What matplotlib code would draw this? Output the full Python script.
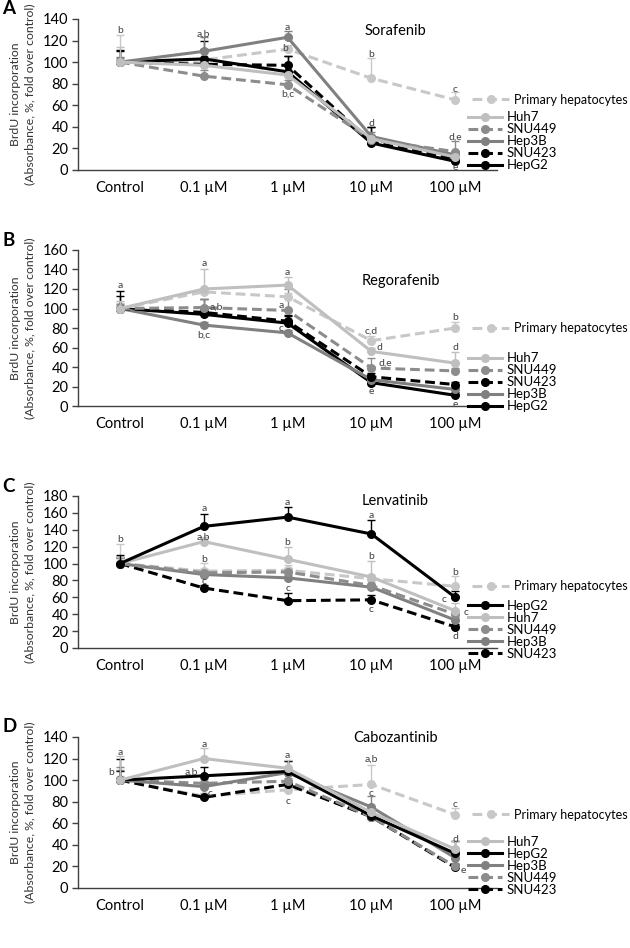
import matplotlib
matplotlib.use('Agg')
import matplotlib.pyplot as plt

plt.rcParams['font.family'] = ['Lato', 'DejaVu Sans']

doses = ['Control', '0.1 µM', '1 µM', '10 µM', '100 µM']
ylabel = 'BrdU incorporation\n(Absorbance, %, fold over control)'

# style per cell line: colour, dashed?
styles = {
    'Huh7': ('#BFBFBF', False),
    'SNU449': ('#8C8C8C', True),
    'Hep3B': ('#808080', False),
    'SNU423': ('#000000', True),
    'HepG2': ('#000000', False),
    'Primary hepatocytes': ('#C8C8C8', True),
}

# ---- A: Sorafenib ----
sora = {
    'Huh7': [100, 97, 88, 29, 12],
    'SNU449': [100, 87, 79, 28, 17],
    'Hep3B': [100, 110, 123, 31, 14],
    'SNU423': [100, 98, 97, 26, 10],
    'HepG2': [100, 103, 91, 25, 8],
    'Primary hepatocytes': [100, 102, 112, 85, 65],
}
sora_err = {
    'Huh7': [14, 5, 4, 3, 3],
    'SNU449': [4, 6, 4, 4, 10],
    'Hep3B': [5, 13, 6, 4, 4],
    'SNU423': [10, 14, 9, 14, 3],
    'HepG2': [11, 17, 15, 15, 3],
    'Primary hepatocytes': [25, 4, 4, 19, 7],
}
sora_letters = [(0, 129, 'b'), (1, 126, 'a,b'), (2, 132, 'a'), (1.97, 113, 'b'),
                (2, 70, 'b,c'), (3, 107, 'b'), (3, 43, 'd'), (4, 75, 'c'),
                (4, 30, 'd,e'), (4, 2, 'e')]
sora_order = ['Huh7', 'SNU449', 'Hep3B', 'SNU423', 'HepG2']

# ---- B: Regorafenib ----
rego = {
    'Huh7': [100, 120, 124, 56, 44],
    'SNU449': [100, 101, 98, 39, 36],
    'SNU423': [100, 96, 87, 30, 22],
    'Hep3B': [100, 83, 75, 27, 17],
    'HepG2': [100, 94, 85, 24, 11],
    'Primary hepatocytes': [100, 117, 112, 67, 80],
}
rego_err = {
    'Huh7': [8, 21, 8, 4, 11],
    'SNU449': [5, 9, 22, 10, 3],
    'SNU423': [18, 14, 6, 4, 3],
    'Hep3B': [4, 3, 3, 3, 3],
    'HepG2': [13, 5, 7, 4, 3],
    'Primary hepatocytes': [6, 4, 4, 5, 6],
}
rego_letters = [(0, 124, 'a'), (1, 146, 'a'), (1.15, 101, 'a,b'), (1, 73, 'b,c'),
                (2, 137, 'a'), (1.92, 103, 'a'), (1.92, 80, 'c'), (3, 77, 'c,d'),
                (3.1, 60, 'd'), (3.17, 44, 'd,e'), (3, 15, 'e'), (4, 91, 'b'),
                (4, 60, 'd'), (4, 2, 'e')]
rego_order = ['Huh7', 'SNU449', 'SNU423', 'Hep3B', 'HepG2']

# ---- C: Lenvatinib ----
lenva = {
    'HepG2': [100, 144, 155, 135, 60],
    'Huh7': [100, 126, 105, 84, 44],
    'SNU449': [100, 89, 90, 74, 40],
    'Hep3B': [100, 87, 83, 72, 33],
    'SNU423': [100, 71, 56, 57, 25],
    'Primary hepatocytes': [100, 91, 92, 82, 73],
}
lenva_err = {
    'HepG2': [10, 15, 12, 17, 7],
    'Huh7': [8, 6, 15, 19, 9],
    'SNU449': [6, 5, 5, 6, 4],
    'Hep3B': [6, 4, 4, 4, 4],
    'SNU423': [8, 3, 9, 6, 3],
    'Primary hepatocytes': [23, 10, 6, 5, 12],
}
lenva_letters = [(0, 128, 'b'), (1, 165, 'a'), (1, 131, 'a,b'), (1, 105, 'b'),
                 (1, 79, 'c'), (2, 172, 'a'), (2, 125, 'b'), (2, 70, 'c'),
                 (3, 157, 'a'), (3, 108, 'b'), (3, 45, 'c'), (4, 89, 'b'),
                 (3.87, 57, 'c'), (4.13, 42, 'c'), (4, 14, 'd')]
lenva_order = ['HepG2', 'Huh7', 'SNU449', 'Hep3B', 'SNU423']

# ---- D: Cabozantinib ----
cabo = {
    'Huh7': [100, 120, 111, 70, 36],
    'HepG2': [100, 104, 108, 67, 32],
    'Hep3B': [100, 94, 107, 75, 28],
    'SNU449': [100, 97, 99, 66, 20],
    'SNU423': [100, 84, 96, 66, 19],
    'Primary hepatocytes': [100, 85, 91, 96, 68],
}
cabo_err = {
    'Huh7': [22, 10, 8, 5, 8],
    'HepG2': [20, 8, 10, 5, 12],
    'Hep3B': [9, 4, 11, 10, 3],
    'SNU449': [12, 4, 3, 3, 3],
    'SNU423': [8, 3, 3, 3, 3],
    'Primary hepatocytes': [4, 3, 3, 18, 6],
}
cabo_letters = [(0, 126, 'a'), (-0.1, 107, 'b'), (1, 133, 'a'), (0.85, 107, 'a,b'),
                (1.08, 88, 'c'), (2, 123, 'a'), (2, 80, 'c'), (3, 119, 'a,b'),
                (3, 88, 'c'), (4, 77, 'c'), (4, 45, 'd'), (4.1, 16, 'e')]
cabo_order = ['Huh7', 'HepG2', 'Hep3B', 'SNU449', 'SNU423']

panels = [
    ('A', 'Sorafenib', sora, sora_err, sora_letters, sora_order, 140, 0.8207, 0.1593, (0.757, 0.92), -0.01, 0.991),
    ('B', 'Regorafenib', rego, rego_err, rego_letters, rego_order, 160, 0.5717, 0.1646, (0.77, 0.80), -0.04, 0.746),
    ('C', 'Lenvatinib', lenva, lenva_err, lenva_letters, lenva_order, 180, 0.3165, 0.1603, (0.757, 0.97), -0.08, 0.487),
    ('D', 'Cabozantinib', cabo, cabo_err, cabo_letters, cabo_order, 140, 0.0633, 0.1593, (0.757, 0.99), -0.05, 0.234),
]

fig = plt.figure(figsize=(6.3, 9.48), dpi=100)
x = list(range(len(doses)))
lw = 2.2
dash = (3.2, 1.6)

for letter, drug, data, errs, letters, order, ymax, bottom, height, tpos, legy, lety in panels:
    ax = fig.add_axes([0.124, bottom, 0.665, height])
    handles = {}
    for name in ['Primary hepatocytes'] + order[::-1]:
        col, dashed = styles[name]
        vals = data[name]
        e = errs[name]
        ax.errorbar(x, vals, yerr=[[0] * len(e), e], fmt='none', ecolor=col,
                    elinewidth=1, capsize=3, capthick=1, zorder=2)
        ln, = ax.plot(x, vals, color=col, lw=lw, marker='o', ms=5.5,
                      linestyle='--' if dashed else '-', zorder=3)
        if dashed:
            ln.set_dashes(dash)
        handles[name] = ln

    for xi, yi, t in letters:
        ax.text(xi, yi, t, ha='center', va='center', fontsize=7.5, color='#404040')

    ax.set_xlim(-0.5, 4.5)
    ax.set_ylim(0, ymax)
    ax.set_yticks(range(0, ymax + 1, 20))
    ax.set_xticks(x)
    ax.set_xticklabels(doses)
    for s in ['top', 'right']:
        ax.spines[s].set_visible(False)
    for s in ['left', 'bottom']:
        ax.spines[s].set_color('#404040')
        ax.spines[s].set_linewidth(1)
    ax.tick_params(axis='y', direction='out', length=4, width=1, color='#404040',
                   labelsize=10.5, pad=3)
    ax.tick_params(axis='x', length=0, labelsize=10.5, pad=8)
    ax.set_ylabel(ylabel, fontsize=8.8, color='#333333', linespacing=1.35)
    ax.yaxis.set_label_coords(-0.103, 0.5)
    ax.text(tpos[0], tpos[1], drug, transform=ax.transAxes, ha='center',
            va='center', fontsize=10.5)

    # primary hepatocytes legend entry next to its last point
    prim = data['Primary hepatocytes']
    leg1 = ax.legend([handles['Primary hepatocytes']], ['Primary hepatocytes'],
                     loc='center left', bbox_to_anchor=(4.2, prim[-1]),
                     bbox_transform=ax.transData, frameon=False, fontsize=9,
                     handlelength=3.0, handletextpad=0.35, borderpad=0,
                     borderaxespad=0)
    ax.add_artist(leg1)
    ax.legend([handles[n] for n in order], order, loc='lower left',
              bbox_to_anchor=(0.93, legy), frameon=False, fontsize=9.5,
              handlelength=2.6, handletextpad=0.35, labelspacing=0.0,
              borderpad=0, borderaxespad=0)

    fig.text(0.004, lety, letter, fontsize=13.5, fontweight='bold',
             ha='left', va='center')

fig.savefig('out.png', dpi=100)
